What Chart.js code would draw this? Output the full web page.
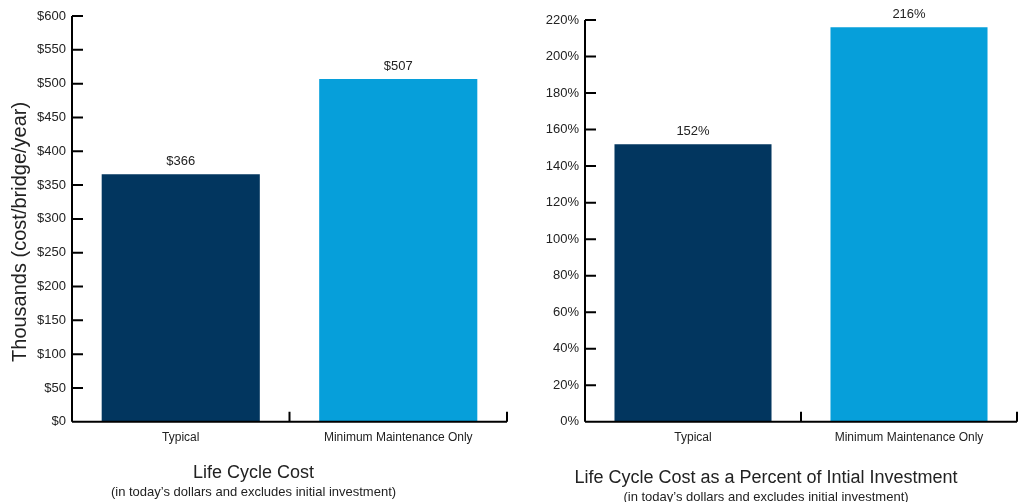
<!DOCTYPE html>
<html>
<head>
<meta charset="utf-8">
<script src="https://cdn.jsdelivr.net/npm/chart.js@4"></script>
<style>
  html, body { margin: 0; padding: 0; background: #fff; }
  #wrap { position: relative; width: 1018px; height: 502px; }
  #leftBox { position: absolute; left: 0; top: 0; width: 515px; height: 502px; }
  #rightBox { position: absolute; left: 515px; top: 0; width: 503px; height: 502px; }
</style>
</head>
<body>
<div id="wrap">
  <div id="leftBox"><canvas id="costChart" width="515" height="502"></canvas></div>
  <div id="rightBox"><canvas id="percentChart" width="503" height="502"></canvas></div>
</div>
<script>
const categories = ['Typical', 'Minimum Maintenance Only'];
const costValues = [366, 507];         // thousands $ per bridge per year
const percentValues = [152, 216];      // % of initial investment
const costTicks = [0, 50, 100, 150, 200, 250, 300, 350, 400, 450, 500, 550, 600];
const percentTicks = [0, 20, 40, 60, 80, 100, 120, 140, 160, 180, 200, 220];
const barColors = ['#02365f', '#069fda'];

const FONT = "'Liberation Sans', Arial, sans-serif";

// axis lines, inward tick marks, rotated y title and value labels
const axisMarks = {
    id: 'axisMarks',
    afterDatasetsDraw(chart, args, opts) {
        const ctx = chart.ctx;
        const area = chart.chartArea;
        const x = chart.scales.x;
        const y = chart.scales.y;
        ctx.save();
        ctx.strokeStyle = '#000';
        ctx.lineWidth = 2;
        ctx.beginPath();
        ctx.moveTo(area.left, y.getPixelForValue(y.max));
        ctx.lineTo(area.left, area.bottom);
        y.ticks.forEach(t => {
            const py = y.getPixelForValue(t.value);
            ctx.moveTo(area.left, py);
            ctx.lineTo(area.left + 11, py);
        });
        ctx.moveTo(area.left, area.bottom);
        ctx.lineTo(area.right, area.bottom);
        const step = x.width / categories.length;
        for (let i = 0; i < categories.length; i++) {
            const px = x.getPixelForValue(i) + step / 2;
            ctx.moveTo(px, area.bottom);
            ctx.lineTo(px, area.bottom - 10);
        }
        ctx.stroke();

        ctx.fillStyle = '#222';
        ctx.font = '13px ' + FONT;
        ctx.textAlign = 'center';
        ctx.textBaseline = 'bottom';
        chart.getDatasetMeta(0).data.forEach((bar, i) => {
            ctx.fillText(opts.format(chart.data.datasets[0].data[i]), bar.x, bar.y - 6);
        });

        if (opts.yTitle) {
            ctx.font = '20px ' + FONT;
            ctx.textBaseline = 'middle';
            ctx.translate(20, (area.top + area.bottom) / 2 + 13);
            ctx.rotate(-Math.PI / 2);
            ctx.fillText(opts.yTitle, 0, 0);
        }
        ctx.restore();
    }
};

function makeChart(canvasId, values, ticks, tickFmt, yTitle, title, sub, pad, yWidth, xHeight) {
    const ctx = document.getElementById(canvasId).getContext('2d');
    return new Chart(ctx, {
        type: 'bar',
        data: {
            labels: categories,
            datasets: [{
                data: values,
                backgroundColor: barColors,
                barPercentage: 0.727,
                categoryPercentage: 1.0,
            }]
        },
        plugins: [axisMarks],
        options: {
            responsive: false,
            animation: false,
            layout: { padding: pad },
            plugins: {
                legend: { display: false },
                tooltip: { enabled: false },
                axisMarks: { format: tickFmt, yTitle: yTitle },
                title: {
                    display: true,
                    position: 'bottom',
                    text: title,
                    weight: 1000,
                    color: '#222',
                    font: { family: FONT, size: 18, weight: 'normal' },
                    padding: { top: 0, bottom: 0 }
                },
                subtitle: {
                    display: true,
                    position: 'bottom',
                    text: sub,
                    color: '#222',
                    font: { family: FONT, size: 13, weight: 'normal' },
                    padding: { top: 1, bottom: 0 }
                }
            },
            scales: {
                x: {
                    grid: { display: false, drawTicks: false },
                    border: { display: false },
                    ticks: { color: '#222', font: { family: FONT, size: 12 }, padding: 9 },
                    afterFit(scale) { scale.height = xHeight; }
                },
                y: {
                    min: 0,
                    max: ticks[ticks.length - 1],
                    afterBuildTicks(scale) { scale.ticks = ticks.map(v => ({ value: v })); },
                    grid: { display: false, drawTicks: false },
                    border: { display: false },
                    ticks: {
                        color: '#222',
                        font: { family: FONT, size: 13 },
                        padding: 6,
                        callback: tickFmt
                    },
                    afterFit(scale) { scale.width = yWidth; }
                }
            }
        }
    });
}

makeChart('costChart', costValues, costTicks, v => '$' + v,
    'Thousands (cost/bridge/year)', 'Life Cycle Cost',
    '(in today\u2019s dollars and excludes initial investment)',
    { top: 16, right: 8, bottom: 2, left: 0 }, 72, 40);

makeChart('percentChart', percentValues, percentTicks, v => v + '%',
    '', 'Life Cycle Cost as a Percent of Intial Investment',
    '(in today\u2019s dollars and excludes initial investment)',
    { top: 20, right: 1, bottom: -3, left: 0 }, 70, 45);
</script>
</body>
</html>
